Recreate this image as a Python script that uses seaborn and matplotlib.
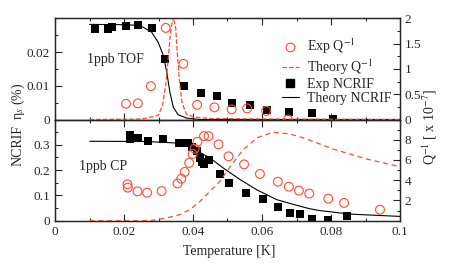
import numpy as np
import matplotlib
matplotlib.use('Agg')
import matplotlib.pyplot as plt
from matplotlib.ticker import MultipleLocator, FuncFormatter
from matplotlib.lines import Line2D
import seaborn as sns

# --- данные ---
# верхняя панель (1ppb TOF)
tof_exp_t = [0.0116, 0.0155, 0.0164, 0.0206, 0.0241, 0.0282, 0.0319, 0.0375, 0.0422,
             0.0469, 0.0514, 0.0565, 0.0614, 0.0679, 0.0744, 0.0807]
tof_exp_n = [0.0269, 0.0269, 0.0274, 0.0277, 0.0279, 0.0272, 0.0180, 0.0098, 0.0078,
             0.0069, 0.0050, 0.0042, 0.0028, 0.0023, 0.0020, 0.0001]
tof_q_t = [0.0206, 0.0240, 0.0278, 0.0321, 0.0372, 0.0412, 0.0462, 0.0512, 0.0557, 0.0612, 0.0675]
tof_q = [0.31, 0.32, 0.66, 1.81, 1.10, 0.29, 0.24, 0.20, 0.22, 0.17, 0.0]
tof_th_t = [0.010, 0.020, 0.0246, 0.0280, 0.0299, 0.0314, 0.0324, 0.0333, 0.0343, 0.0357,
            0.0382, 0.042, 0.05, 0.1]
tof_th_n = [0.0282, 0.0281, 0.0279, 0.0259, 0.0229, 0.0190, 0.0140, 0.0081, 0.0036, 0.0014,
            0.0004, 0.0, 0.0, 0.0]
tof_thq_t = [0.010, 0.025, 0.0266, 0.0299, 0.0312, 0.0322, 0.0329, 0.0336, 0.0343, 0.0350,
             0.0355, 0.0361, 0.0368, 0.0380, 0.0401, 0.045, 0.060, 0.100]
tof_thq = [0.0, 0.01, 0.03, 0.08, 0.28, 0.74, 1.27, 1.80, 2.03, 1.80,
           1.27, 0.74, 0.34, 0.11, 0.05, 0.02, 0.01, 0.0]

# нижняя панель (1ppb CP)
cp_exp_t = [0.0216, 0.0216, 0.0242, 0.0270, 0.0314, 0.0360, 0.0372, 0.0386, 0.0398, 0.0411,
            0.0420, 0.0427, 0.0432, 0.0445, 0.0478, 0.0503, 0.0554, 0.0602, 0.0647, 0.0681,
            0.0709, 0.0744, 0.0792, 0.0845]
cp_exp_n = [0.339, 0.323, 0.325, 0.316, 0.323, 0.306, 0.307, 0.306, 0.291, 0.274,
            0.248, 0.232, 0.223, 0.240, 0.185, 0.150, 0.108, 0.086, 0.056, 0.031,
            0.027, 0.008, 0.002, 0.020]
cp_q_t = [0.0210, 0.0211, 0.0239, 0.0267, 0.0309, 0.0355, 0.0366, 0.0376, 0.0389, 0.0399,
          0.0405, 0.0413, 0.0432, 0.0445, 0.0474, 0.0503, 0.0548, 0.0594, 0.0646, 0.0678,
          0.0707, 0.0737, 0.0792, 0.0838, 0.0942]
cp_q = [3.60, 3.27, 2.90, 2.77, 2.93, 3.68, 4.15, 4.82, 5.71, 6.60,
        7.12, 7.80, 8.36, 8.36, 7.54, 6.36, 5.57, 4.62, 3.85, 3.36,
        2.97, 2.68, 2.18, 1.76, 1.09]
cp_th_t = [0.0101, 0.0266, 0.0353, 0.0391, 0.0415, 0.0449, 0.0488, 0.0536, 0.0585, 0.0643,
           0.0700, 0.0739, 0.0768, 0.0855, 0.0951, 0.1]
cp_th_n = [0.314, 0.313, 0.307, 0.294, 0.274, 0.248, 0.208, 0.163, 0.122, 0.083,
           0.061, 0.047, 0.040, 0.026, 0.020, 0.017]
cp_thq_t = [0.010, 0.0275, 0.0304, 0.0333, 0.0362, 0.0391, 0.0420, 0.0449, 0.0478, 0.0507,
            0.0545, 0.0586, 0.0632, 0.0681, 0.0730, 0.0806, 0.0904, 0.1]
cp_thq = [0.0, 0.0, 0.15, 0.35, 0.6, 1.1, 1.9, 2.9, 3.9, 5.3,
          7.0, 8.2, 8.74, 8.57, 8.07, 7.08, 6.09, 5.33]

RED = '#ff4a36'

sns.set_style('ticks')
plt.rcParams['font.family'] = ['Liberation Serif', 'DejaVu Serif']
plt.rcParams['mathtext.fontset'] = 'stix'
plt.rcParams['font.size'] = 9.5

fig = plt.figure(figsize=(4.57, 2.65), dpi=100)
L, R = 55 / 457, 400 / 457
ax_t = fig.add_axes([L, 1 - 119.5 / 265, R - L, (119.5 - 18.3) / 265])
ax_b = fig.add_axes([L, 1 - 220.7 / 265, R - L, (220.7 - 119.5) / 265])
ax_tr = ax_t.twinx()
ax_br = ax_b.twinx()

fmt = FuncFormatter(lambda v, p: '%g' % round(v, 6))

# верх
sns.lineplot(x=tof_th_t, y=tof_th_n, ax=ax_t, color='black', linewidth=0.8,
             estimator=None, sort=False)
sns.scatterplot(x=tof_exp_t, y=tof_exp_n, ax=ax_t, marker='s', color='black',
                s=34, linewidth=0, zorder=3)
sns.lineplot(x=tof_thq_t, y=tof_thq, ax=ax_tr, color=RED, linewidth=0.9,
             linestyle='--', estimator=None, sort=False)
sns.scatterplot(x=tof_q_t, y=tof_q, ax=ax_tr, marker='o', color=RED, facecolor='none',
                edgecolor=RED, s=40, linewidth=0.8, zorder=3)

# низ
sns.lineplot(x=cp_th_t, y=cp_th_n, ax=ax_b, color='black', linewidth=0.8,
             estimator=None, sort=False)
sns.scatterplot(x=cp_exp_t, y=cp_exp_n, ax=ax_b, marker='s', color='black',
                s=34, linewidth=0, zorder=3)
sns.lineplot(x=cp_thq_t, y=cp_thq, ax=ax_br, color=RED, linewidth=0.9,
             linestyle=(0, (4, 3)), estimator=None, sort=False)
sns.scatterplot(x=cp_q_t, y=cp_q, ax=ax_br, marker='o', color=RED, facecolor='none',
                edgecolor=RED, s=40, linewidth=0.8, zorder=3)

for ax in (ax_t, ax_b):
    ax.set_xlim(0, 0.1)
    ax.xaxis.set_major_locator(MultipleLocator(0.02))
    ax.xaxis.set_minor_locator(MultipleLocator(0.01))
    ax.xaxis.set_major_formatter(fmt)
    ax.yaxis.set_major_formatter(fmt)
    ax.tick_params(which='both', direction='in', top=True, right=False, labelsize=9.5)
    ax.tick_params(which='major', length=5, width=0.8)
    ax.tick_params(which='minor', length=2.5, width=0.8)
    ax.set_xlabel('')
    ax.set_ylabel('')
for ax in (ax_tr, ax_br):
    ax.yaxis.set_major_formatter(fmt)
    ax.tick_params(which='both', direction='in', labelsize=9.5)
    ax.tick_params(which='major', length=5, width=0.8)
    ax.tick_params(which='minor', length=2.5, width=0.8)
    ax.set_ylabel('')
for ax in (ax_t, ax_b, ax_tr, ax_br):
    for s in ax.spines.values():
        s.set_linewidth(0.9)

ax_t.set_ylim(0, 0.03)
ax_t.yaxis.set_minor_locator(MultipleLocator(0.005))
ax_t.set_yticks([0, 0.01, 0.02])
ax_t.tick_params(labelbottom=False)
ax_tr.set_ylim(0, 2)
ax_tr.yaxis.set_major_locator(MultipleLocator(0.5))
ax_tr.yaxis.set_minor_locator(MultipleLocator(0.25))

ax_b.set_ylim(0, 0.4)
ax_b.set_yticks([0, 0.1, 0.2, 0.3])
ax_b.yaxis.set_minor_locator(MultipleLocator(0.05))
ax_br.set_ylim(0, 10)
ax_br.set_yticks([2, 4, 6, 8])
ax_br.yaxis.set_minor_locator(MultipleLocator(1))

fig.text(87 / 457, 1 - 60 / 265, '1ppb TOF', fontsize=10, va='center', ha='left')
fig.text(79 / 457, 1 - 166.7 / 265, '1ppb CP', fontsize=10, va='center', ha='left')

fig.text(229 / 457, 1 - 252 / 265, 'Temperature [K]', ha='center', va='center', fontsize=10)
fig.text(18 / 457, 1 - 146 / 265, 'NCRIF', rotation=90, ha='center', va='center', fontsize=10)
fig.text(18 / 457, 1 - 101 / 265, 'η$_s$ (%)', rotation=90, ha='center', va='center', fontsize=10)
fig.text(430 / 457, 1 - 126.5 / 265, 'Q$^{-1}$ [ x 10$^{-7}$]', rotation=90,
         ha='center', va='center', fontsize=10)

handles = [
    Line2D([], [], marker='o', ls='', mfc='none', mec=RED, ms=6.3, mew=0.8),
    Line2D([], [], color=RED, ls='--', lw=0.9),
    Line2D([], [], marker='s', ls='', color='black', ms=5.8),
    Line2D([], [], color='black', lw=0.8),
]
labels = ['Exp Q$^{-1}$', 'Theory Q$^{-1}$', 'Exp NCRIF', 'Theory NCRIF']
ax_tr.legend(handles, labels, loc='upper left', bbox_to_anchor=(282 / 457, 1 - 37 / 265),
             bbox_transform=fig.transFigure, frameon=False, fontsize=10,
             handlelength=1.2, handletextpad=0.6, labelspacing=0.08,
             borderpad=0, borderaxespad=0)

fig.savefig('out.png', dpi=100)
